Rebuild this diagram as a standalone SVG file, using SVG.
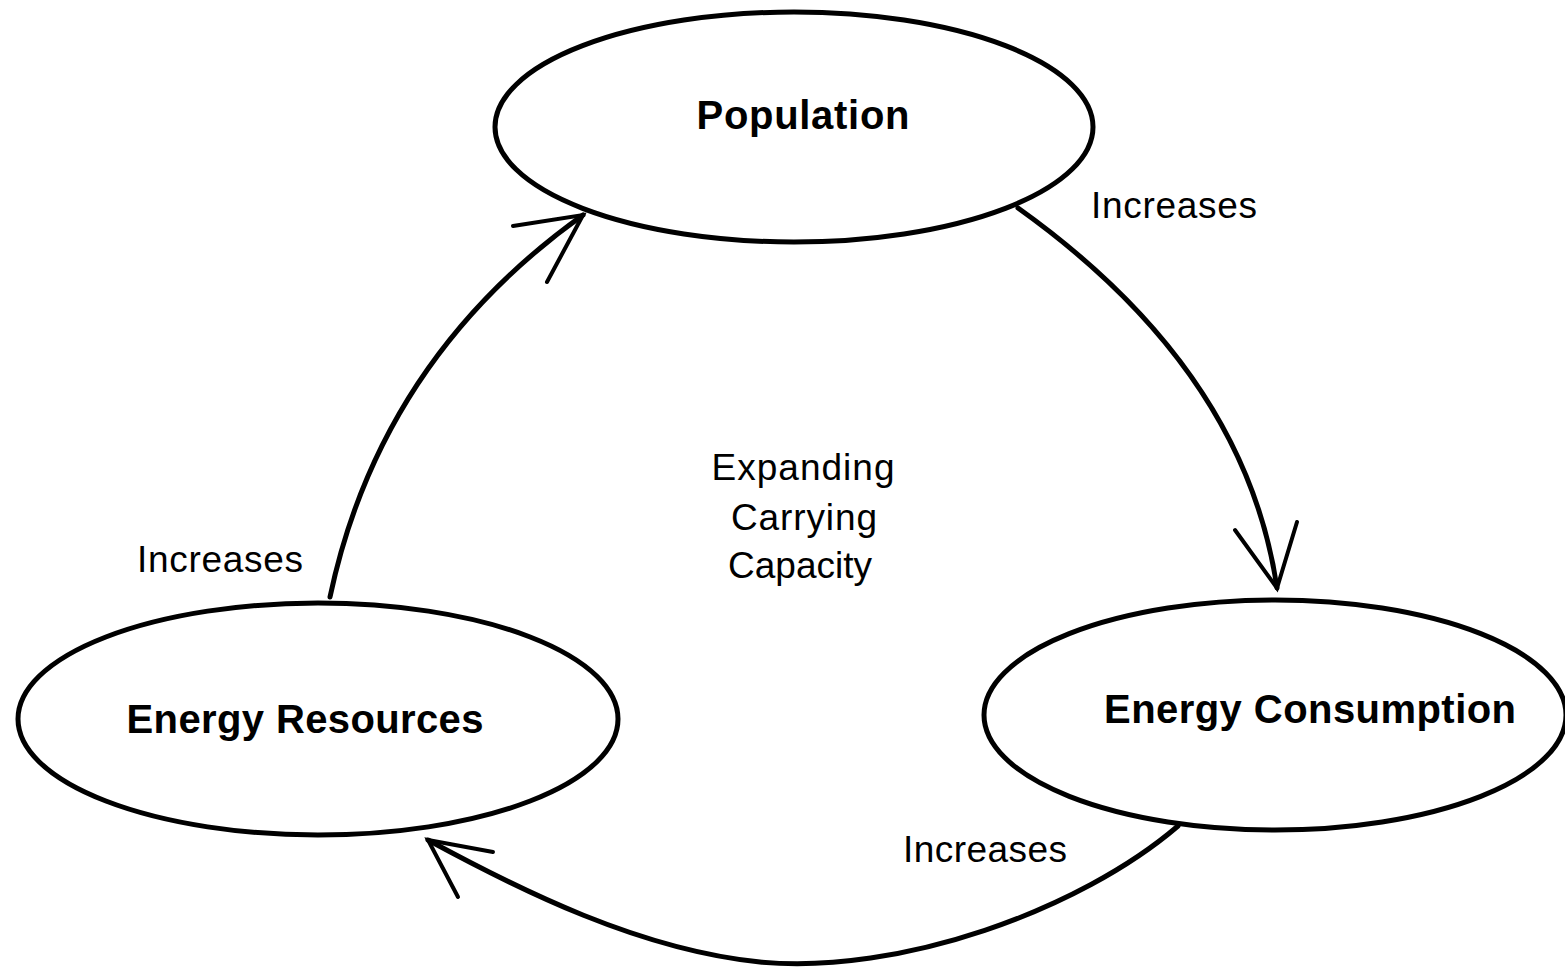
<svg xmlns="http://www.w3.org/2000/svg" width="1565" height="967" viewBox="0 0 1565 967">
<style>
.node{fill:#fff;stroke:#000;stroke-width:5}
.title{font-family:"Liberation Sans",Arial,sans-serif;font-weight:bold;font-size:40px;fill:#000}
.lbl{font-family:"Liberation Sans",Arial,sans-serif;font-size:37px;fill:#000}
.edge{fill:none;stroke:#000;stroke-width:5;stroke-linecap:round;stroke-linejoin:round}
.head{fill:none;stroke:#000;stroke-width:4;stroke-linecap:round}
</style>
<rect width="1565" height="967" fill="#fff"/>
<g id="connectors">
<path class="edge" d="M1018,208 Q1245,370 1277,588"/>
<path class="head" d="M1235,530 L1277,588 L1297,522"/>
<path class="edge" d="M1178,826 C1080,910 900,975 760,962 C640,950 520,890 428,840"/>
<path class="head" d="M493,852 L428,840 L458,897"/>
<path class="edge" d="M330,597 Q380,360 583,215"/>
<path class="head" d="M513,226 L583,215 L547,282"/>
</g>
<g id="population">
<ellipse class="node" cx="794" cy="127" rx="299" ry="115"/>
<text class="title" x="803" y="129" text-anchor="middle" textLength="213">Population</text>
</g>
<g id="energy-resources">
<ellipse class="node" cx="318" cy="719" rx="300" ry="116"/>
<text class="title" x="305" y="733" text-anchor="middle" textLength="357">Energy Resources</text>
</g>
<g id="energy-consumption">
<ellipse class="node" cx="1275" cy="715" rx="291" ry="115"/>
<text class="title" x="1310" y="723" text-anchor="middle" textLength="412">Energy Consumption</text>
</g>
<g id="labels">
<text class="lbl" x="1091" y="218" textLength="166">Increases</text>
<text class="lbl" x="137" y="572" textLength="166">Increases</text>
<text class="lbl" x="903" y="862" textLength="164">Increases</text>
<text class="lbl" x="803" y="480" text-anchor="middle" textLength="183">Expanding</text>
<text class="lbl" x="804" y="530" text-anchor="middle" textLength="146">Carrying</text>
<text class="lbl" x="800" y="578" text-anchor="middle" textLength="144">Capacity</text>
</g>
</svg>
